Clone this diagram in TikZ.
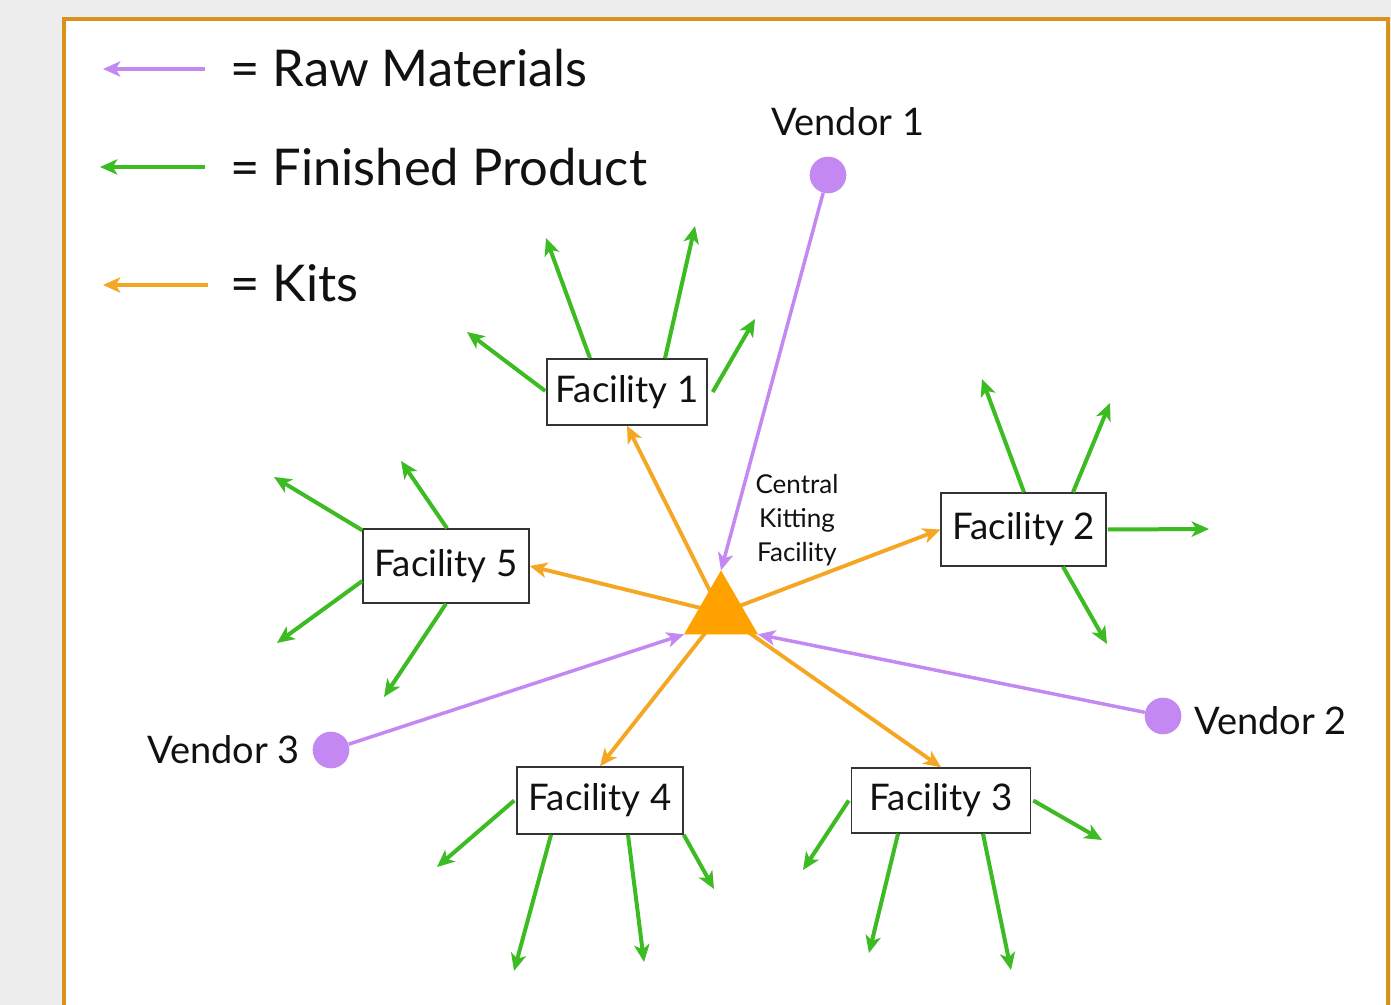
\documentclass[tikz,border=0pt]{standalone}
\usepackage{fontspec}
\setmainfont{Lato}
\usetikzlibrary{arrows.meta,calc,shapes.geometric}
\definecolor{bgc}{HTML}{EDEDED}
\definecolor{framec}{HTML}{D9921C}
\definecolor{purc}{HTML}{C388F2}
\definecolor{grnc}{HTML}{3DBB22}
\definecolor{orac}{HTML}{F5A623}
\definecolor{tric}{HTML}{FFA200}
\definecolor{boxc}{HTML}{333333}
\definecolor{txtc}{HTML}{111111}
\begin{document}
\begin{tikzpicture}[x=0.75pt,y=-0.75pt,
  tip/.style={-{Stealth[length=13pt,width=11.5pt,inset=3.5pt]}},
  purarrow/.style={tip, draw=purc, line width=2.6pt},
  grnarrow/.style={tip, draw=grnc, line width=3pt},
  oraarrow/.style={tip, draw=orac, line width=2.9pt},
  facbox/.style={draw=boxc, line width=1.1pt, fill=white, inner sep=0pt,
    text=txtc, font=\fontsize{27.5}{32}\selectfont},
  vendot/.style={circle, fill=purc, minimum size=27.5pt, inner sep=0pt},
  vendlabel/.style={text=txtc, inner sep=0pt, font=\fontsize{28.5}{34}\selectfont},
  legendtext/.style={text=txtc, inner sep=0pt, anchor=base west, font=\fontsize{38}{44}\selectfont}
]
\useasboundingbox (0,0) rectangle (1391,1005);
\clip (0,0) rectangle (1391,1005);
\fill[bgc] (0,0) rectangle (1391,1005);
\draw[framec, line width=2.3pt, fill=white] (64,19) rectangle (1388,1040);

% legend
\coordinate (l1s) at (205,69);  \coordinate (l1e) at (103,69);
\coordinate (l2s) at (205,167); \coordinate (l2e) at (100,167);
\coordinate (l3s) at (208,285); \coordinate (l3e) at (103,285);
\draw[purarrow] (l1s) -- (l1e);
\draw[grnarrow] (l2s) -- (l2e);
\draw[oraarrow] (l3s) -- (l3e);
\node[legendtext] (lt1) at (230,87) {= Raw Materials};
\node[legendtext] (lt2) at (230,186) {= Finished Product};
\node[legendtext] (lt3) at (230,302) {= Kits};

% facilities
\node[facbox, minimum width=120pt, minimum height=49.5pt] (f1) at (627,392) {\raisebox{-1.5pt}{Facility 1}};
\node[facbox, minimum width=123.75pt, minimum height=54.75pt] (f2) at (1023.5,529.5) {\raisebox{-1.5pt}{Facility 2}};
\node[facbox, minimum width=134.25pt, minimum height=48.75pt] (f3) at (941,800.5) {\raisebox{-1.5pt}{Facility 3}};
\node[facbox, minimum width=124.5pt, minimum height=50.25pt] (f4) at (600,800.5) {\raisebox{-1.5pt}{Facility 4}};
\node[facbox, minimum width=124.5pt, minimum height=55.5pt] (f5) at (446,566) {\raisebox{-1.5pt}{Facility 5}};

% vendors
\node[vendot] (v1) at (828,175) {};
\node[vendot] (v2) at (1163,716) {};
\node[vendot] (v3) at (331,750) {};
\node[vendlabel] (v1l) at (848,122) {Vendor 1};
\node[vendlabel, anchor=west] (v2l) at (1194,721) {Vendor 2};
\node[vendlabel, anchor=east] (v3l) at (300,750) {Vendor 3};

% central kitting facility
\coordinate (tc) at (721,613);
\draw[oraarrow] (tc) -- (f1.south);
\draw[oraarrow] (tc) -- (f2.west);
\draw[oraarrow] (tc) -- (f5.east);
\draw[oraarrow] (tc) -- (f4.north);
\draw[oraarrow] (tc) -- (f3.north);
\node[regular polygon, regular polygon sides=3, fill=tric, minimum size=64pt,
  inner sep=0pt, outer sep=0pt] (tri) at (tc) {};
\node[text=txtc, align=center, inner sep=0pt,
  font=\fontsize{19.5}{25.5}\selectfont] (ckf) at (797,520) {Central\\Kitting\\Facility};

\draw[purarrow] (v1) -- (tri.corner 1);
\draw[purarrow] (v3) -- (tri.corner 2);
\draw[purarrow] (v2) -- (tri.corner 3);

% finished products: facility 1
\coordinate (e11) at (546,238); \coordinate (e12) at (695,226);
\coordinate (e13) at (755,319); \coordinate (e14) at (467,332);
\draw[grnarrow] ($(f1.north)+(-37,0)$) -- (e11);
\draw[grnarrow] ($(f1.north)+(38,0)$) -- (e12);
\draw[grnarrow] ($(f1.east)+(5,0)$) -- (e13);
\draw[grnarrow] ($(f1.west)+(-1,-1)$) -- (e14);

% facility 2
\coordinate (e21) at (982,379); \coordinate (e22) at (1110,403);
\coordinate (e23) at (1209,529); \coordinate (e24) at (1107,644);
\draw[grnarrow] ($(f2.north)+(0.5,0)$) -- (e21);
\draw[grnarrow] ($(f2.north)+(49.5,0)$) -- (e22);
\draw[grnarrow] ($(f2.east)+(1,0)$) -- (e23);
\draw[grnarrow] ($(f2.south)+(39.5,0)$) -- (e24);

% facility 5
\coordinate (e51) at (274,477); \coordinate (e52) at (401,461);
\coordinate (e53) at (277,643); \coordinate (e54) at (384,697);
\draw[grnarrow] ($(f5.north west)+(0,2)$) -- (e51);
\draw[grnarrow] ($(f5.north)+(1,0)$) -- (e52);
\draw[grnarrow] ($(f5.west)+(0,15)$) -- (e53);
\draw[grnarrow] ($(f5.south)+(0,0)$) -- (e54);

% facility 4
\coordinate (e41) at (437,867); \coordinate (e42) at (514,971);
\coordinate (e43) at (644,962); \coordinate (e44) at (714,889);
\draw[grnarrow] ($(f4.west)+(-2,0)$) -- (e41);
\draw[grnarrow] ($(f4.south)+(-49,0)$) -- (e42);
\draw[grnarrow] ($(f4.south)+(28,0)$) -- (e43);
\draw[grnarrow] (f4.south east) -- (e44);

% facility 3
\coordinate (e31) at (803,870); \coordinate (e32) at (869,953);
\coordinate (e33) at (1011,970); \coordinate (e34) at (1102,840);
\draw[grnarrow] ($(f3.west)+(-2,0)$) -- (e31);
\draw[grnarrow] ($(f3.south)+(-43,0)$) -- (e32);
\draw[grnarrow] ($(f3.south)+(42,0)$) -- (e33);
\draw[grnarrow] ($(f3.east)+(2,0)$) -- (e34);
\end{tikzpicture}
\end{document}
